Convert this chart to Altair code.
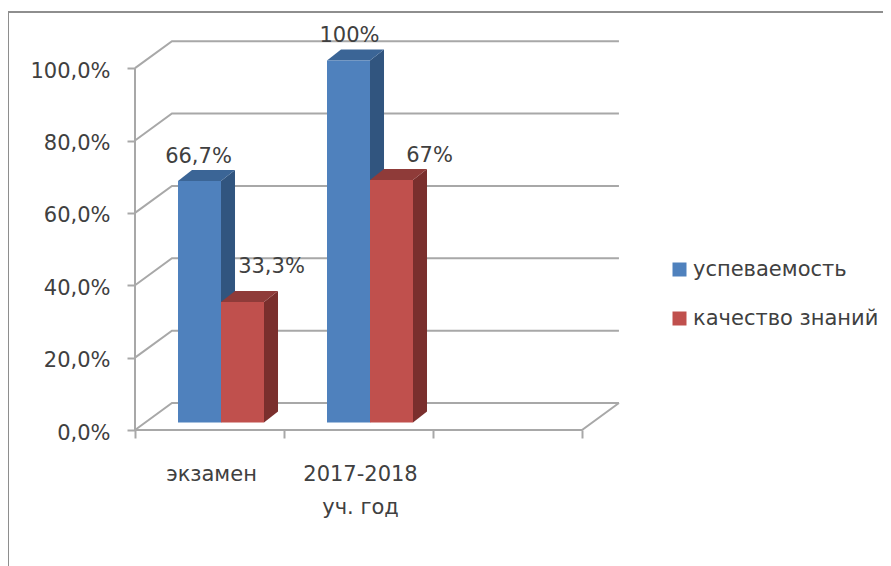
import altair as alt
import pandas as pd

categories = ["экзамен", "2017-2018\nуч. год"]
series_names = ["успеваемость", "качество знаний"]
uspevaemost = [66.7, 100.0]
kachestvo = [33.3, 67.0]
label_text = [["66,7%", "100%"], ["33,3%", "67%"]]
y_ticks = [0, 20, 40, 60, 80, 100]
x_ticks = [0, 1, 2, 3]

front_col = ["#4F81BD", "#C0504D"]
side_col = ["#31557F", "#7A2F2D"]
top_col = ["#3B6596", "#8F3B39"]
GRID = "#A8A8A8"
FRAME = "#8E8E8E"
TEXT = "#404040"
FONT = "DejaVu Sans"

# projected depth of the wall (category units / percent)
WALL_DX, WALL_DY = 0.248, 7.46
# bar placement inside the floor depth
BAR_W, BAR_Y0, BAR_DX, BAR_DY = 0.2886, 2.1, 0.094, 3.04

xs = alt.Scale(domain=[0, 5], nice=False, zero=False)
ys = alt.Scale(domain=[0, 110], nice=False)
X = alt.X("x:Q", scale=xs, title=None,
          axis=alt.Axis(values=x_ticks, labels=False, domain=False, grid=False, tickSize=8,
                        tickWidth=2, tickColor=GRID))
Y = alt.Y("y:Q", scale=ys, title=None,
          axis=alt.Axis(values=y_ticks, domain=False, grid=False, tickSize=8, tickWidth=2,
                        tickColor=GRID, labelFont=FONT, labelFontSize=21, labelColor=TEXT,
                        labelPadding=17, labelOffset=3,
                        labelExpr="replace(format(datum.value/100,'.1%'),'.',',')"))

# walls
grid_rows = []
for p in y_ticks:
    grid_rows += [
        {"g": p, "x": 0, "y": p},
        {"g": p, "x": WALL_DX, "y": p + WALL_DY},
        {"g": p, "x": 3 + WALL_DX, "y": p + WALL_DY},
    ]
grid_rows += [{"g": "floor", "x": 0, "y": 0}, {"g": "floor", "x": 3, "y": 0},
              {"g": "floor", "x": 3 + WALL_DX, "y": WALL_DY}]
grid = alt.Chart(pd.DataFrame(grid_rows)).mark_line(color=GRID, strokeWidth=2, clip=False).encode(
    x=X, y=Y, detail="g:N")
axis_line = alt.Chart(pd.DataFrame({"x": [0], "y": [0], "y2": [100]})).mark_rule(
    color=GRID, strokeWidth=2).encode(x=X, y=Y, y2="y2:Q")

# bars
side_rows, top_rows, front_rows = [], [], []
for s, vals in enumerate([uspevaemost, kachestvo]):
    for c, v in enumerate(vals):
        xl = c + BAR_W * (1 + s)
        xr = xl + BAR_W
        id_ = f"{s}-{c}"
        b0, t0 = BAR_Y0, v + BAR_Y0
        side_rows += [
            {"id": id_, "x": xr, "y": b0, "y2": t0, "col": side_col[s]},
            {"id": id_, "x": xr + BAR_DX, "y": b0 + BAR_DY, "y2": t0 + BAR_DY, "col": side_col[s]},
        ]
        top_rows += [
            {"id": id_, "y": t0, "x": xl, "x2": xr, "col": top_col[s]},
            {"id": id_, "y": t0 + BAR_DY, "x": xl + BAR_DX, "x2": xr + BAR_DX, "col": top_col[s]},
        ]
        front_rows.append({"series": series_names[s], "x": xl, "x2": xr, "y": b0, "y2": t0})

sides = alt.Chart(pd.DataFrame(side_rows)).mark_area(orient="vertical", clip=False).encode(
    x=X, y=Y, y2="y2:Q", detail="id:N", color=alt.Color("col:N", scale=None))
tops = alt.Chart(pd.DataFrame(top_rows)).mark_area(orient="horizontal", clip=False).encode(
    y=Y, x=X, x2="x2:Q", detail="id:N", color=alt.Color("col:N", scale=None))
fronts = alt.Chart(pd.DataFrame(front_rows)).mark_rect(clip=False).encode(
    x=X, x2="x2:Q", y=Y, y2="y2:Q",
    color=alt.Color(
        "series:N",
        scale=alt.Scale(domain=series_names, range=front_col),
        legend=alt.Legend(
            title=None, orient="none", legendX=534, legendY=227, symbolType="square",
            symbolSize=196, symbolStrokeWidth=0, labelFont=FONT, labelFontSize=21,
            labelColor=TEXT, rowPadding=27, labelOffset=3, symbolOffset=0, labelLimit=260,
        ),
    ),
)

# value labels
value_layers = []
nudge = {(0, 0): (-1, -13), (0, 1): (1, -14), (1, 0): (29, -24), (1, 1): (38, -13)}
for s, vals in enumerate([uspevaemost, kachestvo]):
    for c, v in enumerate(vals):
        dfl = pd.DataFrame([{"x": c + BAR_W * (1.5 + s),
                             "y": v + BAR_Y0 + BAR_DY, "t": label_text[s][c]}])
        value_layers.append(
            alt.Chart(dfl).mark_text(font=FONT, fontSize=21, color=TEXT, baseline="middle",
                                     dx=nudge[(s, c)][0], dy=nudge[(s, c)][1], clip=False)
            .encode(x=X, y=Y, text="t:N"))

cat_df = pd.DataFrame({"x": [i + 0.5 for i in range(len(categories))], "y": [0, 0], "t": categories})
cat_text = alt.Chart(cat_df).mark_text(font=FONT, fontSize=21, color=TEXT, baseline="middle",
                                       lineBreak="\n", lineHeight=33, dx=2, dy=45, clip=False).encode(
    x=X, y=Y, text="t:N")

frame_v = alt.Chart(pd.DataFrame({"a": [0]})).mark_rule(color=FRAME, strokeWidth=2, clip=False).encode(
    x=alt.value(-127), y=alt.value(-20), y2=alt.value(534))
frame_h = alt.Chart(pd.DataFrame({"a": [0]})).mark_rule(color=FRAME, strokeWidth=2, clip=False).encode(
    x=alt.value(-127), x2=alt.value(748), y=alt.value(-20))

chart = alt.layer(
    grid, axis_line, frame_v, frame_h, sides, tops, fronts, *value_layers, cat_text
).properties(
    width=745, height=398,
    autosize=alt.AutoSizeParams(type="none"),
    padding={"left": 127, "top": 24, "right": 3, "bottom": 136},
).configure_view(stroke=None)

chart.save("out.html", embed_options={"renderer": "svg", "actions": False})
